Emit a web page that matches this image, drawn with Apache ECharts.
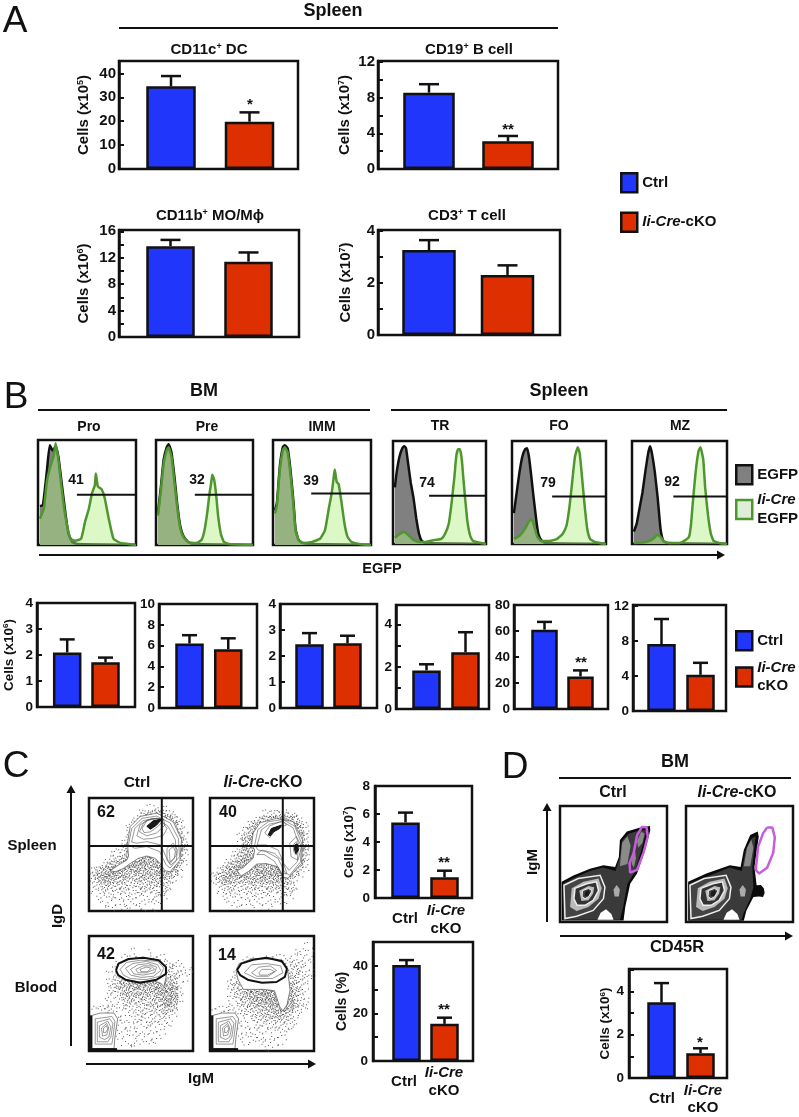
<!DOCTYPE html>
<html><head><meta charset="utf-8">
<style>html,body{margin:0;padding:0;background:#fff}#c{width:799px;height:1117px}</style>
<script src="https://cdn.jsdelivr.net/npm/echarts@6/dist/echarts.min.js"></script>
</head><body><div id="c"></div>
<script>
// ---------- bar values (mean, top of error bar) : Ctrl, cKO ----------
const cd11cVals=[34.6,19.8], cd11cTops=[38.9,23.7];
const cd19Vals=[8.55,3.1],   cd19Tops=[9.5,3.7];
const cd11bVals=[13.75,11.4],cd11bTops=[14.7,12.8];
const cd3Vals=[3.27,2.31],   cd3Tops=[3.65,2.68];
const proVals=[2.1,1.72],    proTops=[2.6,1.9];
const preVals=[6.2,5.65],    preTops=[7.0,6.7];
const immVals=[2.45,2.49],   immTops=[2.88,2.78];
const trVals=[1.83,2.69],    trTops=[2.12,3.64];
const foVals=[61,25],        foTops=[67,29.7];
const mzVals=[7.65,4.13],    mzTops=[10.5,5.5];
const spleenIgdVals=[5.4,1.48], spleenIgdTops=[6.1,1.95];
const bloodIgdVals=[40.3,15.6], bloodIgdTops=[42.4,18.2];
const bmVals=[3.49,1.14],    bmTops=[4.38,1.37];

// ---------- EGFP histograms: [channel, % of max] ----------
const proEgfp=[[2,37],[5,38],[9,70],[12,95],[15,90],[18,94],[21,83],[24,60],[28,30],[31,11],[35,3],[40,1],[100,0]];
const proCre=[[2,25],[6,35],[9,60],[12,73],[16,85],[18,97],[21,80],[24,55],[28,27],[33,6],[38,4],[44,6],[48,22],[52,35],[55,49],[58,57],[59,68],[61,56],[65,53],[68,45],[72,26],[77,6],[84,2],[92,1],[100,0]];
const preEgfp=[[2,30],[5,55],[8,82],[11,93],[13,96],[16,88],[19,65],[22,38],[25,18],[28,9],[33,3],[38,1],[100,0]];
const preCre=[[2,28],[5,52],[8,78],[11,90],[13,93],[16,84],[19,60],[22,35],[25,16],[28,8],[33,3],[42,2],[47,5],[50,14],[53,32],[55,48],[57,60],[58,67],[60,62],[62,48],[64,28],[67,10],[70,3],[75,1],[100,0]];
const immEgfp=[[2,33],[4,40],[7,75],[10,93],[12,95],[15,92],[18,70],[21,40],[23,15],[26,5],[30,2],[40,1],[100,0]];
const immCre=[[2,30],[4,38],[7,72],[10,90],[12,93],[15,88],[18,66],[21,36],[23,14],[26,5],[30,2],[40,3],[48,6],[53,14],[57,35],[60,50],[62,65],[63,72],[65,60],[67,58],[70,40],[73,20],[76,8],[80,3],[88,1],[100,0]];
const trEgfp=[[2,55],[4,70],[7,85],[10,93],[12,95],[14,93],[16,80],[19,60],[22,45],[25,25],[28,10],[31,3],[35,1],[100,0]];
const trCre=[[2,6],[6,9],[12,12],[16,9],[22,4],[28,2],[35,2],[45,4],[52,5],[56,10],[60,20],[63,40],[66,65],[68,85],[70,92],[72,92],[74,82],[76,60],[78,40],[80,22],[83,8],[86,3],[100,0]];
const foEgfp=[[2,30],[5,50],[8,70],[11,85],[14,92],[16,93],[18,85],[20,70],[23,45],[26,22],[28,10],[31,4],[35,1],[100,0]];
const foCre=[[2,5],[8,8],[14,15],[18,22],[21,24],[24,16],[27,7],[31,3],[40,3],[48,5],[54,10],[58,18],[61,35],[64,60],[67,85],[70,94],[72,88],[74,70],[77,40],[80,15],[83,5],[88,2],[100,0]];
const mzEgfp=[[2,12],[5,20],[8,35],[11,50],[14,70],[17,88],[19,95],[21,88],[24,70],[27,45],[30,15],[33,3],[37,1],[100,0]];
const mzCre=[[2,1],[15,2],[22,5],[27,9],[30,7],[33,3],[38,1],[50,1],[55,3],[60,7],[62,18],[64,40],[67,70],[70,90],[72,94],[75,82],[77,55],[80,28],[83,10],[86,3],[92,1],[100,0]];
const histGates=[[39.7,47.8],[40,47.8],[39,49],[38.8,46.8],[42.7,46],[43.5,46]];
const histPercents=['41','32','39','74','79','92'];

// ---------- IgD/IgM plots: dot density per 5% cell, top row first ----------
const spleenCtrlDensity=['00000000000000000000','00000000000111100000','00000000013445421000','00000000135666653100','00000001356666665200','00000002466666666310','00000003566666666510','00000014666666666620','00000125666666666620','00001125566666666620','00012355566666666510','00135557777666666310','13467776665557666200','35677664445556553100','24565443344444431000','12333332233333310000','11222222222222210000','01112112111121100000','00111111111111000000','00011011011010000000'];
const spleenKoDensity=['00000000000000000000','00000000000000000000','00000000001222211000','00000000135566653100','00000002466666666310','00000024666666666510','00000135666666666620','00000146666666666620','00000255666666666630','00001355666666666630','00012566666666666620','00135666666666666510','01356776666666666310','24567765566677753100','13564445555556531000','01332223333334421000','01222222222222221000','00111111211111110000','00011111111111100000','00000100100100000000'];
const bloodCtrlDensity=['00000000000000000000','00000000000000000000','00000000100100000000','00000011111111100000','00000122222222211100','00001222222222232111','00011233333333332211','00012345555555544110','00013456666666766100','00012345555566776100','00011234444445676100','00011123333344675100','11222122222333453000','00011111222222321000','00011111122222210000','00001111111211110000','00001111111111100000','00000111111111000000','00000011111110000000','00000000100000000000'];
const bloodKoDensity=['00000000000000000000','00000000000000000010','00000000000000001111','00000001101111111111','00000011222211122211','00000112222222223211','00001222333333333221','00012334444444443211','00013466666666653210','00012456677777654210','00012345667787764210','00011234556777874210','11121223445566763110','00111122334455531100','00011111223333321000','00001111122222211000','00001111111111110000','00000111111111100000','00000011111111000000','00000000001100000000'];

// ---------- contours (IgM %, IgD %) ----------
const spleenCtrlOuter=[[20.4,35.6],[28.4,40.7],[36.4,45.1],[38,48.7],[37,60],[39.6,74.8],[49.2,83.7],[65.2,86.6],[81,79],[89,63],[87.5,45],[78,34.7],[73,35.6],[68.4,42],[63.6,46.6],[55.6,48.7],[47.6,46.6],[39.6,42],[33.2,37.7],[25.2,34.7]];
const spleenCtrlRings=[
 [[38,58.5],[41,73],[51,82],[65,84],[78,78],[86,64],[87,48],[78,38],[74,41],[68,52.5],[55.6,57],[44,55.5]],
 [[41,61],[44,73],[52,80],[65,82],[76,75],[83,63],[84,49.5],[78,42],[74,48],[69,58.5],[55.6,61.4],[46,60]],
 [[46,66.5],[49,76],[57,81],[68,82],[75,73],[71.6,67],[62,64.4],[52.4,63.5]],
 [[48.6,70],[52.4,78],[60.4,82],[71.6,81.6],[73,76],[65,69],[55.6,66.5]],
 [[51,73],[55.6,80],[65,82],[71.6,80.7],[67,75.4],[59,70],[53,69.4]],
 [[75,55.5],[81,60],[85,54],[84,45],[78.6,40.6],[75,45]],
 [[77,54],[81,57],[83,52.5],[82,46.6],[78,43.6]]];
const spleenCtrlCore=[[55.6,75],[62,80],[70,81.3],[65,76],[59,72.4]];
const spleenKoOuter=[[26,35.6],[32,38.6],[41.5,46.6],[43,54],[40,58.5],[41.5,69],[48,78],[64,82],[80,79],[89,63],[88,42],[75,29],[70,30],[65.5,39],[54,42],[45,41.5],[37,35],[30,31]];
const spleenKoRings=[
 [[43,58.5],[46,72],[56,79],[70,81],[81.5,75],[88,60],[87,43.6],[76.7,31.7],[72,34],[65.5,46.6],[54,52.5],[46,54]],
 [[45.4,58.5],[49.5,72],[57.5,77],[70,79],[80,73.6],[85,60],[84,43.6],[76,36],[71,42],[65.5,54],[54,58.5]],
 [[45,50],[52,50],[62,44],[69,33],[74,33],[70,44],[62,51],[50,54]],
 [[52.7,69],[57.5,75.4],[70,80],[73.5,76],[64,73],[57.5,65]],
 [[76.7,60],[83,66],[88,57],[84.7,45],[78,48]],
 [[80,58.5],[83,61.4],[85.6,55.5],[83,49.5],[80.5,52.5]]];
const spleenKoCore=[[56,67.4],[59,73],[68.7,76],[67,73],[61,70],[58,66.5]];
const spleenKoCore2=[[81.5,58.5],[83.8,59.4],[85,54],[82.6,50.7],[81.4,54]];
const bloodCtrlOuter=[[26,70],[28,76],[38,80],[52,81],[67,79],[74,73],[74,64],[72,56],[69,59],[62,61],[49,60],[35,62],[28,66]];
const bloodCtrlRings=[
 [[30,71],[36,77],[50,79],[66,78],[72,72],[68,65],[55,62],[40,63],[33,66]],
 [[35,72],[42,76],[55,78],[66,75],[69,70],[62,65],[50,64],[40,66]],
 [[40,71],[47,75],[57,76],[65,73],[63,68],[52,66],[43,67]],
 [[45,71],[52,74],[60,74],[63,71],[55,68],[47,68]],
 [[49,71],[55,73],[60,72],[56,69],[50,69]]];
const bloodCtrlGate=[[26,70.4],[28.4,76],[38,80],[52.4,81],[67,79],[74,73],[74,67],[65,62],[49,59.4],[35,62],[28,66]];
const bloodKoOuter=[[25,70],[27,62],[32,53.6],[51,53.6],[62,52.5],[67,38.5],[70,35],[74,40],[77,53],[75,67.5],[72,76],[60,80],[40,80],[28,76]];
const bloodKoRings=[
 [[33,68],[40,75],[55,76],[68,74],[70,68],[60,63],[45,63]],
 [[40,68],[47,73],[58,74],[64,70],[56,65],[45,65]],
 [[47,68],[50,71],[58,71],[62,69],[55,66],[48,66]]];
const bloodKoGate=[[26,70.4],[30,76],[41.5,79.4],[54,81],[69,78.3],[74,71.6],[72,64.4],[64,60],[50,59.4],[37,61.7],[29,66]];
const bloodLowOuter=[[3,31],[11,33],[24,33],[27.5,28],[25,12.5],[24,2],[3,2]];
const bloodLowRings=[
 [[6,28],[22,30],[25,26],[23,12],[22,6],[6,6]],
 [[8,25],[20,28],[23,24],[21,12],[18,8],[8,8]],
 [[10,22],[18,26],[21,21],[19,12],[15,10],[10,12]],
 [[12,20],[17,24],[19,20],[17,14],[13,13]],
 [[14,20],[17,22],[18,19],[16,16],[14,16]]];
const bloodLowEdgeLeft=[[1,2],[3,2],[3,31],[1,31]];
const bloodLowEdgeBottom=[[1,0.5],[27,0.5],[27,2.5],[1,2.5]];
const quadV=[[70,0],[70,100]], quadH=[[0,57.5],[100,57.5]];

// ---------- CD45R/IgM zebra plots ----------
const bmCtrlOutline=[[1.5,34.6],[12.5,40],[28,46],[40.6,49],[51.5,47.5],[55,56],[56,70.6],[62.5,78],[75,81.5],[84,82.7],[84.4,79],[79.6,62],[72,41.8],[65.6,33],[61,13],[59.4,1.4],[1.5,1.4]];
const bmCtrlBody=[[3,33],[13,38],[28,44],[40,47],[52,44],[56,56],[58,70],[64,76],[75,79],[81,79],[76,62],[70,43],[63,33],[59,13],[56,2],[3,2]];
const bmCtrlStem=[[56,48],[58,68],[63,74],[66,66],[63,50]];
const bmCtrlSpot1=[[67,50],[68,60],[70,63],[71,55],[69,47]];
const bmCtrlSpot2=[[72,70],[76,78],[79,76],[77,68],[73,64]];
const bmCtrlGate=[[68.75,59],[72,74.6],[76.6,82],[81,81.4],[82,73.5],[78,59.6],[72,45],[65.6,42.6],[65,50.7]];
const bmKoOutline=[[2,34.6],[19,41.8],[41,49],[51,47.5],[54,62],[60,75],[67,78],[68,73.5],[64,47.5],[66,31.7],[70,32],[72.7,29],[73.5,25],[72,21.6],[68,22],[63,21.6],[56.5,10],[54,1],[2,1]];
const bmKoBody=[[3,33],[19,39],[41,47],[52,44],[56,62],[61,72],[65,74],[62,47],[63,30],[60,20],[54,8],[52,2],[3,2]];
const bmKoStem=[[54,48],[57,64],[61,71],[63,64],[60,48]];
const bmKoGate=[[75.8,81.4],[80.7,81.4],[83,73],[81.5,59.6],[75.8,46.7],[68.3,41.8],[65.2,45],[67.4,65],[72,76.4]];
const bmT1=[[3.7,31.7],[17,37.5],[37.5,40.3],[42,30],[40.6,20],[31,10],[15.6,4.9],[4.7,3]];
const bmT2=[[11,29],[22,34.6],[36,37.5],[39,29],[36,20],[26.6,13],[15.6,9.5],[9.4,13]];
const bmT3=[[14,29],[25,33],[34,34.6],[36,27],[31,18.7],[23.4,14.4],[16,14.4],[13,20]];
const bmT4=[[18,27],[26.6,31],[32,30],[31,24.5],[26.6,18.7],[20,18]];
const bmT5=[[21,27],[26.6,29],[30,27],[27,22],[23.4,20],[20.6,22]];
const bmT6=[[23.4,26],[27,27.6],[28,25],[25.6,22],[23,22.6]];
const bmBlob=[[51,22],[50,28],[53,32],[56,28],[55,22]];
const bmWhite=[[35,2],[38,8],[43,11],[48,7],[50,2]];

// ---------- names ----------
const legendCtrl='Ctrl', legendKo='Ii-Cre-cKO', legendEgfp='EGFP', legendCre='Ii-Cre EGFP';

const FF='"Liberation Sans",Arial,sans-serif';
const BLUE='#2136fb', RED='#dd2f00', EDGE='#111';
const GREY='#808080', GREEN='#4f962f', LIGHT='rgba(180,240,130,0.45)';

const grids=[],xAxes=[],yAxes=[],series=[],gfx=[];

function addGrid(l,t,r,b,border){
  const i=grids.length;
  grids.push({left:l,top:t,width:r-l,height:b-t,show:true,borderColor:'#111',borderWidth:border||2.5,backgroundColor:'transparent',containLabel:false});
  return i;
}
const richStyles=(s,lh)=>{
  const base={fontFamily:FF,fontWeight:'bold',color:'#111',fill:'#111'};
  if(lh)base.lineHeight=lh;
  return {
    n:{...base,fontSize:s},
    i:{...base,fontStyle:'italic',fontSize:s},
    s:{...base,fontSize:Math.round(s*0.62),verticalAlign:'top'}
  };
};
function txt(x,y,text,size,o){
  o=o||{};
  gfx.push({type:'text',x,y,rotation:o.rot||0,silent:true,z:50,style:{text,rich:richStyles(size),fontFamily:FF,fontWeight:o.weight||'bold',fontSize:size,fill:'#111',align:o.align||'center',verticalAlign:'middle'}});
}
function hline(x0,y0,x1,y1,w){
  gfx.push({type:'line',silent:true,z:50,shape:{x1:x0,y1:y0,x2:x1,y2:y1},style:{stroke:'#111',lineWidth:w||2}});
}
function arrowR(x0,x1,y){hline(x0,y,x1-6,y,2);gfx.push({type:'polygon',silent:true,z:50,shape:{points:[[x1-8,y-4.5],[x1,y],[x1-8,y+4.5]]},style:{fill:'#111'}});}
function arrowU(x,y0,y1){hline(x,y0,x,y1+6,2);gfx.push({type:'polygon',silent:true,z:50,shape:{points:[[x-4.5,y1+8],[x,y1],[x+4.5,y1+8]]},style:{fill:'#111'}});}

function barPanel(c){
  const [l,t,r,b]=c.frame, i=addGrid(l,t,r,b);
  xAxes.push({gridIndex:i,type:'value',min:0,max:r-l,show:false});
  yAxes.push({gridIndex:i,type:'value',min:0,max:c.ymax,interval:c.interval,
    axisLine:{show:true,lineStyle:{color:'#111',width:2.5}},
    axisTick:{show:true,inside:true,length:c.tick||5,lineStyle:{color:'#111',width:2}},
    splitLine:{show:false},
    axisLabel:{margin:c.margin||3,color:'#111',fontFamily:FF,fontWeight:'bold',fontSize:c.fs||15,
      formatter:v=>c.labels.includes(v)?String(v):''},
    name:c.name||'',nameLocation:'middle',nameRotate:90,nameGap:c.gap||28,
    nameTextStyle:{fontFamily:FF,fontWeight:'bold',fontSize:c.nfs||15,color:'#111',rich:richStyles(c.nfs||15)}});
  const cx=c.bars.map(q=>(q[0]+q[1])/2-l), bw=c.bars[0][1]-c.bars[0][0]-2.5;
  [legendCtrl,legendKo].forEach((nm,k)=>{
    series.push({type:'bar',name:nm,xAxisIndex:i,yAxisIndex:i,barWidth:bw,barGap:'-100%',
      data:[[cx[k],c.vals[k]]],itemStyle:{color:k?RED:BLUE,borderColor:EDGE,borderWidth:2.5},z:3,silent:true});
  });
  const cap=(c.cap||20)/2;
  series.push({type:'custom',name:'SEM',xAxisIndex:i,yAxisIndex:i,z:2,silent:true,
    data:cx.map((x,k)=>[x,c.vals[k],c.tops[k]]),encode:{x:0,y:[1,2]},
    renderItem:(p,api)=>{
      const a=api.coord([api.value(0),api.value(1)]), e=api.coord([api.value(0),api.value(2)]);
      const st={stroke:'#111',lineWidth:2.5};
      return {type:'group',children:[
        {type:'line',shape:{x1:a[0],y1:a[1],x2:e[0],y2:e[1]},style:st},
        {type:'line',shape:{x1:e[0]-cap,y1:e[1],x2:e[0]+cap,y2:e[1]},style:st}]};
    }});
}
function hist(frame,egfp,cre,gate){
  const [l,t,r,b]=frame,i=addGrid(l,t,r,b);
  xAxes.push({gridIndex:i,type:'value',min:0,max:100,show:false});
  yAxes.push({gridIndex:i,type:'value',min:0,max:100,show:false});
  series.push({type:'line',name:legendEgfp,xAxisIndex:i,yAxisIndex:i,data:egfp,showSymbol:false,silent:true,z:2,smooth:0.15,
    lineStyle:{color:'#111',width:2.5},areaStyle:{color:GREY,opacity:1},itemStyle:{color:GREY}});
  series.push({type:'line',name:legendCre,xAxisIndex:i,yAxisIndex:i,data:cre,showSymbol:false,silent:true,z:3,smooth:0.15,
    lineStyle:{color:GREEN,width:2.5},areaStyle:{color:LIGHT,opacity:1},itemStyle:{color:GREEN}});
  series.push({type:'line',name:'gate',xAxisIndex:i,yAxisIndex:i,data:[[gate[0],gate[1]],[100,gate[1]]],showSymbol:false,silent:true,z:4,
    lineStyle:{color:'#111',width:2}});
}
const JIT=[[-.42,-.31],[.12,-.45],[.37,.08],[-.18,.29],[.05,-.05],[-.36,.44],[.44,-.22],[-.08,-.2],[.26,.38],[-.47,.05],[.2,-.27],[-.25,-.44],[.47,.46],[-.02,.14],[.33,-.38],[-.3,.12],[.09,.47],[-.14,-.35],[.4,.25],[-.45,.31],[.16,.07],[-.22,-.08],[.28,-.12],[-.05,.38],[-.38,-.15],[.02,-.33],[.22,.22]];
function dots(i,rows){
  const data=[];
  rows.forEach((row,r)=>[...row].forEach((ch,k)=>{if(ch!=='0')data.push([k*5+2.5,97.5-r*5,+ch]);}));
  series.push({type:'custom',name:'events',xAxisIndex:i,yAxisIndex:i,z:1,silent:true,data,encode:{x:0,y:1},
    renderItem:(p,api)=>{
      const c=api.coord([api.value(0),api.value(1)]),s=api.size([5,5]),n=api.value(2)*2,start=(p.dataIndex*7)%JIT.length,ch=[];
      for(let j=0;j<n;j++){const o=JIT[(start+j)%JIT.length];
        ch.push({type:'rect',shape:{x:c[0]+o[0]*s[0],y:c[1]+o[1]*s[1],width:1,height:1},style:{fill:'#555'}});}
      return {type:'group',children:ch};
    }});
}
function poly(i,pts,style,z){
  series.push({type:'custom',name:'contour',xAxisIndex:i,yAxisIndex:i,z:z||3,silent:true,data:pts,encode:{x:0,y:1},
    renderItem:(p,api)=>p.dataIndex===0?{type:'polygon',shape:{points:pts.map(q=>api.coord(q))},style}:null});
}
function path(i,pts,color,w,z){
  series.push({type:'line',name:'gate',xAxisIndex:i,yAxisIndex:i,data:pts,showSymbol:false,silent:true,z:z||6,lineStyle:{color,width:w}});
}
function flowGrid(frame){
  const [l,t,r,b]=frame,i=addGrid(l,t,r,b);
  xAxes.push({gridIndex:i,type:'value',min:0,max:100,show:false});
  yAxes.push({gridIndex:i,type:'value',min:0,max:100,show:false});
  return i;
}
const OUT={fill:'#fff',stroke:'#555',lineWidth:0.7};
const RING={fill:'none',stroke:'#555',lineWidth:0.6};
const closeP=a=>a.concat([a[0]]);

function spleenPlot(frame,den,outer,rings,cores){
  const i=flowGrid(frame);
  dots(i,den);
  poly(i,outer,OUT,3);
  rings.forEach(r=>poly(i,r,RING,4));
  cores.forEach(r=>poly(i,r,{fill:'#1a1a1a',stroke:'#111',lineWidth:1},5));
  path(i,quadV,'#111',2,7);path(i,quadH,'#111',2,7);
}
function bloodPlot(frame,den,outer,rings,gate){
  const i=flowGrid(frame);
  dots(i,den);
  poly(i,outer,OUT,3);
  rings.forEach(r=>poly(i,r,RING,4));
  poly(i,bloodLowOuter,OUT,3);
  bloodLowRings.forEach(r=>poly(i,r,RING,4));
  poly(i,bloodLowEdgeLeft,{fill:'#111'},5);
  poly(i,bloodLowEdgeBottom,{fill:'#111'},5);
  path(i,closeP(gate),'#111',2,7);
}
function bmPlot(frame,outline,body,stem,gate,spots){
  const i=flowGrid(frame);
  poly(i,outline,{fill:'#0a0a0a'},2);
  poly(i,body,{fill:'#3a3a3a'},3);
  poly(i,stem,{fill:'#8a8a8a'},4);
  (spots||[]).forEach(s=>poly(i,s,{fill:'#888'},4));
  poly(i,bmT1,{fill:'#444',stroke:'#eee',lineWidth:1.5},4);
  poly(i,bmT2,{fill:'#bbb'},4);
  poly(i,bmT3,{fill:'#333',stroke:'#eee',lineWidth:1.5},4);
  poly(i,bmT4,{fill:'#bbb'},4);
  poly(i,bmT5,{fill:'#444',stroke:'#eee',lineWidth:1},4);
  poly(i,bmT6,{fill:'#1a1a1a'},4);
  poly(i,bmBlob,{fill:'#aaa'},4);
  poly(i,bmWhite,{fill:'#fff'},4);
  path(i,closeP(gate),'#c95cdc',2.5,7);
}

// ===== Panel A =====
barPanel({frame:[119,61,298,169],bars:[[145,197],[223,276]],vals:cd11cVals,tops:cd11cTops,ymax:45.2,interval:10,labels:[0,10,20,30,40],name:'{n|Cells (x10}{s|5}{n|)}',gap:28});
barPanel({frame:[378,61,558,169],bars:[[402,456],[481,535]],vals:cd19Vals,tops:cd19Tops,ymax:12.1,interval:2,labels:[0,4,8,12],name:'{n|Cells (x10}{s|7}{n|)}',gap:26});
barPanel({frame:[119,230,299,337],bars:[[145,196],[223,274]],vals:cd11bVals,tops:cd11bTops,ymax:16.2,interval:2,labels:[0,4,8,12,16],name:'{n|Cells (x10}{s|6}{n|)}',gap:28});
barPanel({frame:[378,230,560,335],bars:[[401,457],[479,536]],vals:cd3Vals,tops:cd3Tops,ymax:4.04,interval:1,labels:[0,2,4],name:'{n|Cells (x10}{s|7}{n|)}',gap:25});
txt(15,22,'A',37,{weight:'normal'});
txt(333,11,'Spleen',18);
hline(119,28,558,28,2);
txt(209,50,'{n|CD11c}{s|+}{n| DC}',15);
txt(469,50,'{n|CD19}{s|+}{n| B cell}',15);
txt(210,216,'{n|CD11b}{s|+}{n| MO/Mϕ}',15);
txt(467,216,'{n|CD3}{s|+}{n| T cell}',15);
txt(250,105,'*',15);
txt(508,130,'**',15);

// ===== Panel B histograms =====
const histFrames=[[38,440,136,545],[156,440,253,545],[273,440,371,545],[393,441,486,544],[512,441,606,544],[632,441,727,544]];
const histSets=[[proEgfp,proCre],[preEgfp,preCre],[immEgfp,immCre],[trEgfp,trCre],[foEgfp,foCre],[mzEgfp,mzCre]];
histFrames.forEach((f,k)=>hist(f,histSets[k][0],histSets[k][1],histGates[k]));
[[76,480],[197,480],[311,481],[427,483],[548,483],[672,482]].forEach((p,k)=>txt(p[0],p[1],histPercents[k],14));
txt(16,398,'B',37,{weight:'normal'});
txt(204,391,'BM',18); hline(38,410,370,410,2);
txt(559,391,'Spleen',18); hline(391,410,727,410,2);
[['Pro',89,427],['Pre',207,427],['IMM',322,427],['TR',440,426],['FO',559,426],['MZ',680,426]].forEach(a=>txt(a[1],a[2],a[0],14));
arrowR(39,725,555);
txt(382,569,'EGFP',14.5);

// ===== Panel B bars =====
const B={cap:15,tick:5,fs:13.5,margin:4};
barPanel({...B,frame:[37,603,135,707],bars:[[51.7,82.7],[90,121]],vals:proVals,tops:proTops,ymax:4,interval:1,labels:[0,1,2,3,4],name:'{n|Cells (x10}{s|6}{n|)}',nfs:13.5,gap:21});
barPanel({...B,frame:[159,604,257,708],bars:[[174,205],[213,243.5]],vals:preVals,tops:preTops,ymax:10,interval:2,labels:[0,2,4,6,8,10]});
barPanel({...B,frame:[280,604,377,708],bars:[[294,325],[332,363]],vals:immVals,tops:immTops,ymax:4,interval:1,labels:[0,1,2,3,4]});
barPanel({...B,frame:[396,605,489,709],bars:[[411,442],[450,481]],vals:trVals,tops:trTops,ymax:4.93,interval:1,labels:[0,2,4]});
barPanel({...B,frame:[514,605,608,709],bars:[[530,559],[566,595]],vals:foVals,tops:foTops,ymax:80,interval:20,labels:[0,20,40,60,80]});
barPanel({...B,frame:[633,605,726,711],bars:[[646,677],[685,716]],vals:mzVals,tops:mzTops,ymax:12.1,interval:4,labels:[0,4,8,12]});
txt(581,663,'**',15);

// ===== Panel C =====
spleenPlot([89,798,193,911],spleenCtrlDensity,spleenCtrlOuter,spleenCtrlRings,[spleenCtrlCore]);
spleenPlot([210,798,314,911],spleenKoDensity,spleenKoOuter,spleenKoRings,[spleenKoCore,spleenKoCore2]);
bloodPlot([89,936,193,1051],bloodCtrlDensity,bloodCtrlOuter,bloodCtrlRings,bloodCtrlGate);
bloodPlot([210,936,314,1051],bloodKoDensity,bloodKoOuter,bloodKoRings,bloodKoGate);
[['62',106,813],['40',228,813],['42',106,955],['14',227,956]].forEach(a=>txt(a[1],a[2],a[0],16));
txt(16,767,'C',37,{weight:'normal'});
txt(137,783,'Ctrl',15.5);
txt(263,783,'{i|Ii-Cre}{n|-cKO}',16);
txt(32,846,'Spleen',15);
txt(36,988,'Blood',15);
txt(58,916,'IgD',15,{rot:Math.PI/2});
arrowU(71,1046,785);
arrowR(86,316,1064);
txt(201,1079,'IgM',15);
const C={cap:15,fs:13.5,margin:5};
barPanel({...C,frame:[375,786,472,898],bars:[[390,421],[429,460]],vals:spleenIgdVals,tops:spleenIgdTops,ymax:8,interval:2,labels:[0,2,4,6,8],name:'{n|Cells (x10}{s|7}{n|)}',nfs:13.5,gap:19});
barPanel({...C,frame:[373,942,473,1061],bars:[[391,422],[429,460]],vals:bloodIgdVals,tops:bloodIgdTops,ymax:50,interval:10,labels:[0,20,40],name:'Cells (%)',nfs:14,gap:19});
txt(444,863,'**',15); txt(444,1010,'**',15);
txt(405,919,'Ctrl',15); txt(446,911,'{i|Ii-Cre}',15); txt(446,929,'cKO',15);
txt(404,1082,'Ctrl',15); txt(444,1073,'{i|Ii-Cre}',15); txt(444,1091,'cKO',15);

// ===== Panel D =====
bmPlot([560,806,667,922],bmCtrlOutline,bmCtrlBody,bmCtrlStem,bmCtrlGate,[bmCtrlSpot1,bmCtrlSpot2]);
bmPlot([686,806,793,922],bmKoOutline,bmKoBody,bmKoStem,bmKoGate);
txt(515,768,'D',37,{weight:'normal'});
txt(675,762,'BM',18); hline(559,778,791,778,2);
txt(613,793,'Ctrl',16); txt(737,793,'{i|Ii-Cre}{n|-cKO}',16);
txt(533,862,'IgM',15,{rot:Math.PI/2});
arrowU(547,922,803);
arrowR(560,793,936);
txt(677,947,'CD45R',16.5);
barPanel({...C,frame:[629,969,727,1078],bars:[[646,677],[685,716]],vals:bmVals,tops:bmTops,ymax:5.03,interval:1,labels:[0,2,4],name:'{n|Cells (x10}{s|6}{n|)}',nfs:13.5,gap:11});
txt(700,1043,'*',15);
txt(662,1099,'Ctrl',15); txt(703,1091,'{i|Ii-Cre}',15); txt(703,1108,'cKO',15);

// ===== legends =====
const swatch=(name,color,edge)=>({name,icon:'rect',itemStyle:{color,borderColor:edge||EDGE,borderWidth:2.5}});
const legendText=lh=>({color:'#111',fontFamily:FF,fontWeight:'bold',fontSize:15,rich:richStyles(15,lh)});
const legends=[
 {left:620,top:172,padding:0,orient:'vertical',itemWidth:16,itemHeight:19,itemGap:18,selectedMode:false,
  data:[swatch(legendCtrl,BLUE),swatch(legendKo,RED)],textStyle:legendText(),
  formatter:n=>n===legendKo?'{i|Ii-Cre}{n|-cKO}':'{n|Ctrl}'},
 {left:735,top:464,padding:0,orient:'vertical',itemWidth:16,itemHeight:19,itemGap:7,selectedMode:false,
  data:[swatch(legendEgfp,GREY),swatch(legendCre,'#dfeed6',GREEN)],textStyle:legendText(19),
  formatter:n=>n===legendCre?'{i|Ii-Cre}\n{n|EGFP}':'{n|EGFP}'},
 {left:735,top:630,padding:0,orient:'vertical',itemWidth:16,itemHeight:19,itemGap:9,selectedMode:false,
  data:[swatch(legendCtrl,BLUE),swatch(legendKo,RED)],textStyle:legendText(18),
  formatter:n=>n===legendKo?'{i|Ii-Cre}\n{n|cKO}':'{n|Ctrl}'}
];

const chart=echarts.init(document.getElementById('c'),null,{renderer:'canvas'});
chart.setOption({animation:false,backgroundColor:'#fff',textStyle:{fontFamily:FF},
  tooltip:{show:false},grid:grids,xAxis:xAxes,yAxis:yAxes,series,graphic:{elements:gfx},legend:legends});
</script></body></html>
